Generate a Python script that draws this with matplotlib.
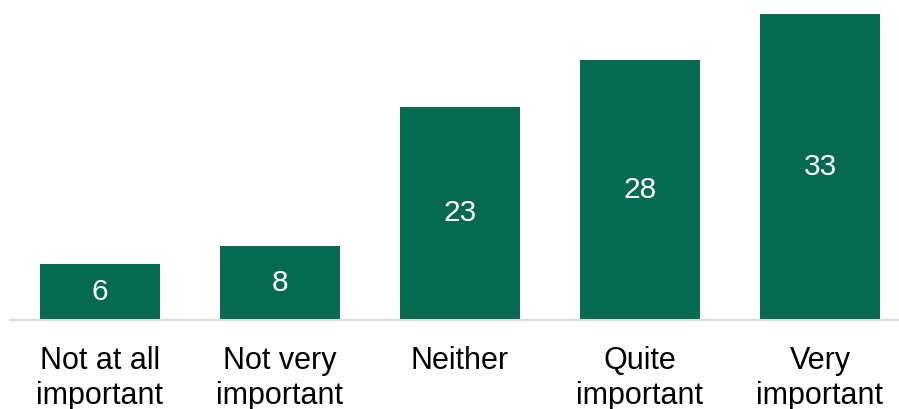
import matplotlib
matplotlib.use("Agg")
import matplotlib.pyplot as plt

# Responses to "how important" question (%)
categories = ["Not at all\nimportant", "Not very\nimportant", "Neither",
              "Quite\nimportant", "Very\nimportant"]
values = [6, 8, 23, 28, 33]

bar_color = "#066A51"

plt.rcParams["font.family"] = ["Liberation Sans", "DejaVu Sans"]

fig = plt.figure(figsize=(8.99, 4.09), dpi=100)
ax = fig.add_axes([10 / 899, 89 / 409, 889 / 899, 320 / 409])

x = list(range(len(values)))
bars = ax.bar(x, values, width=0.667, color=bar_color)

# value labels centred inside each bar
for xi, v in zip(x, values):
    ax.text(xi, v / 2, str(v), ha="center", va="center",
            color="white", fontsize=21.5)

ax.set_xlim(-0.5, -0.5 + 889 / 180)
ax.set_ylim(0, 320 / 9.27)
ax.set_xticks(x)
ax.set_xticklabels(categories, fontsize=22, linespacing=1.2)
ax.tick_params(axis="x", length=0, pad=19)
ax.set_yticks([])

for side in ["top", "right", "left"]:
    ax.spines[side].set_visible(False)
ax.spines["bottom"].set_color("#D9D9D9")
ax.spines["bottom"].set_linewidth(1.5)

fig.savefig("out.png", dpi=100)
